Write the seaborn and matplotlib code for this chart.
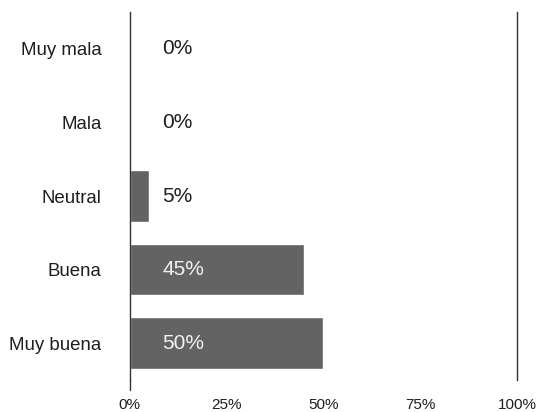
import matplotlib
matplotlib.use("Agg")
import matplotlib.pyplot as plt
import seaborn as sns
import pandas as pd

categories = ["Muy mala", "Mala", "Neutral", "Buena", "Muy buena"]
values = [0, 0, 5, 45, 50]
xtick_values = [0, 25, 50, 75, 100]
xtick_labels = ["0%", "25%", "50%", "75%", "100%"]

df = pd.DataFrame({"categoria": categories, "valor": values})

sns.set_theme(style="white")
plt.rcParams["font.family"] = ["Liberation Sans", "DejaVu Sans"]

fig = plt.figure(figsize=(5.41, 4.12), dpi=100)
ax = fig.add_axes([129.5 / 541, 1 - 380 / 412, (517 - 129.5) / 541, (380 - 12) / 412])

bar_color = "#636363"
sns.barplot(data=df, x="valor", y="categoria", order=categories, orient="h",
            color=bar_color, saturation=1, width=0.7, ax=ax)

ax.set_xlim(0, 100)
ax.set_ylim(len(categories) - 0.5, -0.5)
ax.set_xlabel("")
ax.set_ylabel("")

# value labels at a fixed offset from the origin
label_x = 8.4
for i, v in enumerate(values):
    inside = v > label_x + 8
    ax.text(label_x, i, f"{v}%", ha="left", va="center", fontsize=15,
            color="#f2f2f2" if inside else "#1e1e1e")

ax.set_xticks(xtick_values)
ax.set_xticklabels(xtick_labels)
ax.tick_params(axis="x", length=0, pad=13, labelsize=11, labelcolor="#1e1e1e")
ax.tick_params(axis="y", length=0, pad=20, labelsize=13.4, labelcolor="#1e1e1e")

for side in ["top", "bottom"]:
    ax.spines[side].set_visible(False)
for side in ["left", "right"]:
    ax.spines[side].set_color("#333333")
    ax.spines[side].set_linewidth(1.0)

# short extension of the zero line below the bars
ax.plot([0, 0], [len(categories) - 0.5, len(categories) - 0.5 + 0.135],
        color="#333333", lw=1.0, clip_on=False)

fig.savefig("out.png", dpi=100)
